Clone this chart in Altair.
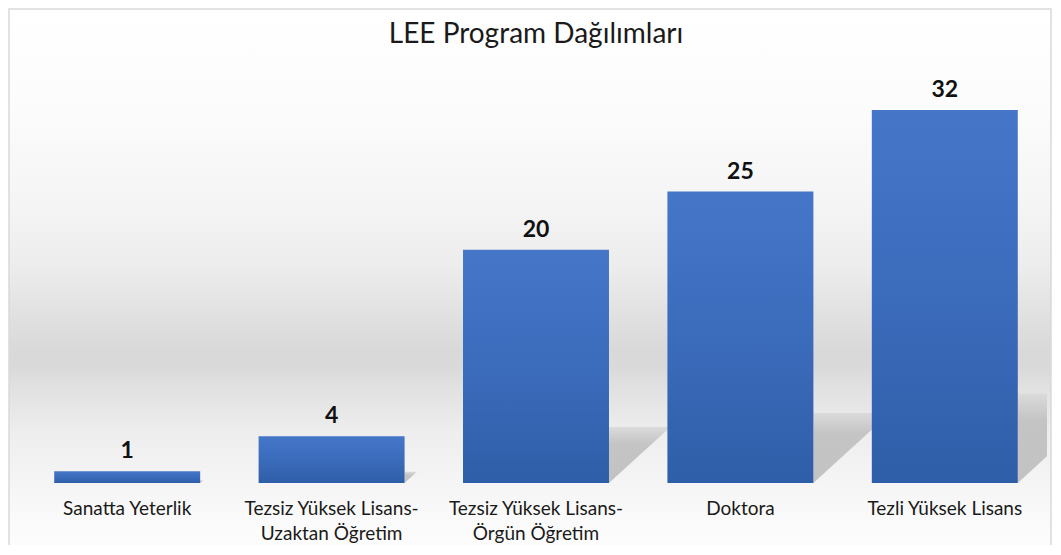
import altair as alt
import pandas as pd

categories = [
    "Sanatta Yeterlik",
    "Tezsiz Yüksek Lisans-Uzaktan Öğretim",
    "Tezsiz Yüksek Lisans-Örgün Öğretim",
    "Doktora",
    "Tezli Yüksek Lisans",
]
values = [1, 4, 20, 25, 32]
y_max = 35
title_text = "LEE Program Dağılımları"

FONT = "Lato"
W, H = 1022, 408
N = len(categories)
HALF_BAR = 0.3571  # bar width = 1/1.4 of the category step

df = pd.DataFrame({"cat": categories, "value": values, "idx": list(range(N))})

bg_gradient = alt.Gradient(
    gradient="linear", x1=0, x2=0, y1=0, y2=1,
    stops=[
        alt.GradientStop(color="#ffffff", offset=0),
        alt.GradientStop(color="#fcfcfc", offset=0.17),
        alt.GradientStop(color="#f5f5f5", offset=0.355),
        alt.GradientStop(color="#ececec", offset=0.48),
        alt.GradientStop(color="#e0e0e0", offset=0.572),
        alt.GradientStop(color="#d9d9d9", offset=0.632),
        alt.GradientStop(color="#d9d9d9", offset=0.66),
        alt.GradientStop(color="#e0e0e0", offset=0.694),
        alt.GradientStop(color="#eeeeee", offset=0.786),
        alt.GradientStop(color="#f5f5f5", offset=0.878),
        alt.GradientStop(color="#fafafa", offset=0.946),
        alt.GradientStop(color="#fdfdfd", offset=1),
    ],
)

bar_gradient = alt.Gradient(
    gradient="linear", x1=0, x2=0, y1=0, y2=1,
    stops=[
        alt.GradientStop(color="#4576c8", offset=0),
        alt.GradientStop(color="#3b6bbb", offset=0.5),
        alt.GradientStop(color="#2f5ea8", offset=1),
    ],
)

shadow_gradient = alt.Gradient(
    gradient="linear", x1=0, x2=0, y1=0, y2=1,
    stops=[
        alt.GradientStop(color="#dadada", offset=0),
        alt.GradientStop(color="#c2c2c2", offset=0.3),
        alt.GradientStop(color="#c0c0c0", offset=1),
    ],
)

x_scale = alt.Scale(domain=[0, N], nice=False, zero=False)
y_scale = alt.Scale(domain=[0, y_max], nice=False, zero=True)

background = alt.Chart(pd.DataFrame({"a": [0]})).mark_rect(
    fill=bg_gradient, stroke="#d9d9d9", strokeWidth=1.5
).encode(
    x=alt.value(-16), x2=alt.value(1026), y=alt.value(-66), y2=alt.value(475)
)

shadows = alt.Chart(df).transform_calculate(
    pt="[0, 1]"
).transform_flatten(["pt"]).transform_calculate(
    sx=f"datum.idx + 0.5 + {HALF_BAR} + datum.pt * 0.015 * datum.value",
    sy="0.24 * datum.value",
    sy2="datum.pt * 0.24 * datum.value",
).mark_area(fill=shadow_gradient, clip=True, opacity=0.95).encode(
    x=alt.X("sx:Q", scale=x_scale, axis=None),
    y=alt.Y("sy:Q", scale=y_scale, axis=None),
    y2="sy2:Q",
    detail="cat:N",
)

bars = alt.Chart(df).transform_calculate(
    x0=f"datum.idx + 0.5 - {HALF_BAR}",
    x1=f"datum.idx + 0.5 + {HALF_BAR}",
    zero="0",
).mark_rect(fill=bar_gradient).encode(
    x=alt.X("x0:Q", scale=x_scale, axis=None),
    x2="x1:Q",
    y=alt.Y("value:Q", scale=y_scale, axis=None),
    y2="zero:Q",
)

value_labels = alt.Chart(df).transform_calculate(
    xc="datum.idx + 0.5"
).mark_text(
    font=FONT, fontSize=23, fontWeight="bold", color="#111111",
    baseline="alphabetic", dy=-13,
).encode(
    x=alt.X("xc:Q", scale=x_scale),
    y=alt.Y("value:Q", scale=y_scale),
    text="value:Q",
)

cat_labels = alt.Chart(df).transform_calculate(
    xc="datum.idx + 0.5",
    lab="split(replace(datum.cat, '-', '-|'), '|')",
).mark_text(
    font=FONT, fontSize=19, color="#1a1a1a", baseline="top", lineHeight=25,
).encode(
    x=alt.X("xc:Q", scale=x_scale),
    y=alt.value(H + 17),
    text="lab:N",
)

title = alt.Chart(pd.DataFrame({"t": [title_text]})).mark_text(
    font=FONT, fontSize=28, color="#1a1a1a", baseline="alphabetic", align="center",
).encode(
    x=alt.value(W / 2),
    y=alt.value(-32),
    text="t:N",
)

chart = alt.layer(background, shadows, bars, value_labels, cat_labels, title).properties(
    width=W,
    height=H,
    autosize=alt.AutoSizeParams(type="none"),
    padding={"left": 17, "top": 67, "right": 5, "bottom": 62},
).configure_view(stroke=None)

chart.save("out.html", embed_options={"renderer": "svg", "actions": False})
